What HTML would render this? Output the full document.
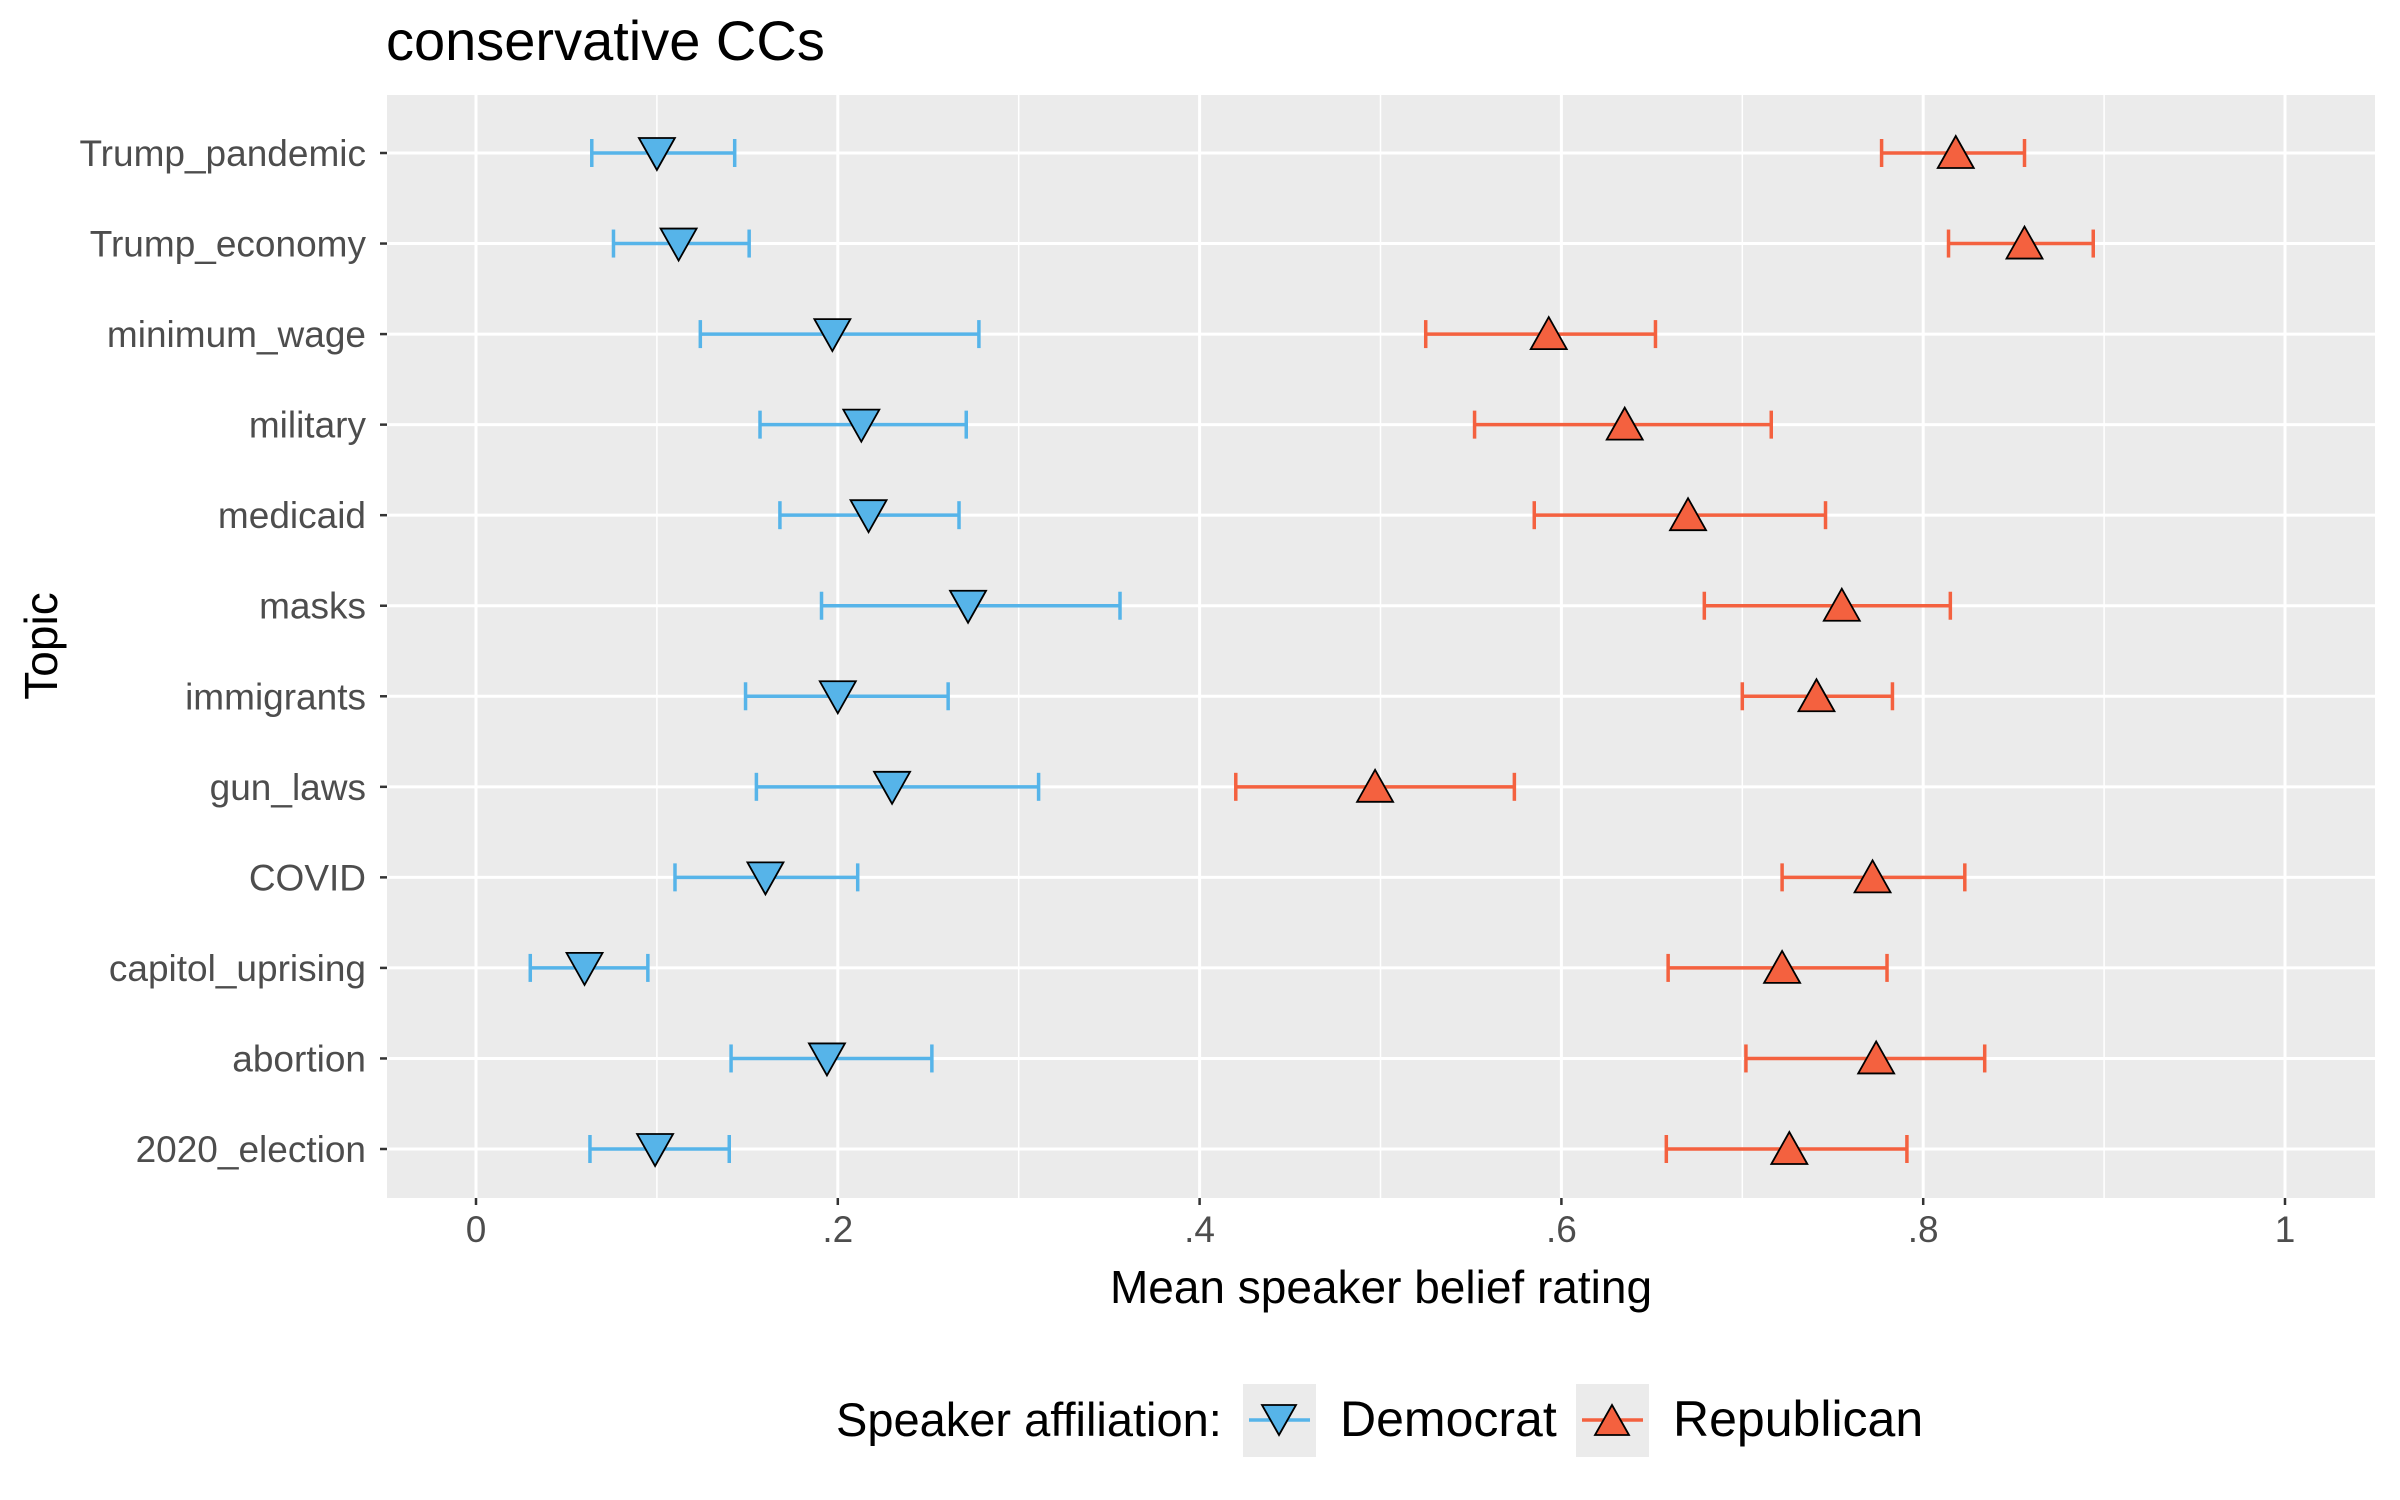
<!DOCTYPE html>
<html><head><meta charset="utf-8"><style>
html,body{margin:0;padding:0;background:#fff;}
svg{display:block;font-family:"Liberation Sans",Arial,sans-serif;}
</style></head><body>
<svg id="chart" width="2400" height="1500" viewBox="0 0 2400 1500" xmlns="http://www.w3.org/2000/svg">
<text x="386" y="60" font-size="56" fill="#000">conservative CCs</text>
<rect x="387" y="95" width="1988" height="1103" fill="#EBEBEB"/>
<g id="grid"></g>
<g id="marks"></g>
<g id="axes"></g>
<text x="1381" y="1303" font-size="46" text-anchor="middle" fill="#000">Mean speaker belief rating</text>
<text transform="translate(57,646) rotate(-90)" font-size="46" text-anchor="middle" fill="#000">Topic</text>
<g>
<text x="836" y="1436" font-size="47" fill="#000">Speaker affiliation:</text>
<g>
<rect x="1243" y="1384" width="73" height="73" fill="#EBEBEB"/>
<line x1="1249" y1="1420" x2="1310" y2="1420" stroke="#56B4E9" stroke-width="3.5"/>
<polygon points="1262,1405 1296,1405 1279,1435" fill="#56B4E9" stroke="#000" stroke-width="1.8"/>
<text x="1340" y="1436" font-size="50" fill="#000">Democrat</text>
</g>
<g>
<rect x="1576" y="1384" width="73" height="73" fill="#EBEBEB"/>
<line x1="1582" y1="1420" x2="1643" y2="1420" stroke="#F4613F" stroke-width="3.5"/>
<polygon points="1595,1435 1629,1435 1612,1405" fill="#F4613F" stroke="#000" stroke-width="1.8"/>
<text x="1673" y="1436" font-size="50" fill="#000">Republican</text>
</g>
</g>
</svg>
<script>
const topics = ["Trump_pandemic","Trump_economy","minimum_wage","military","medicaid","masks","immigrants","gun_laws","COVID","capitol_uprising","abortion","2020_election"];
const demMean = [0.100,0.112,0.197,0.213,0.217,0.272,0.200,0.230,0.160,0.060,0.194,0.099];
const demLo   = [0.064,0.076,0.124,0.157,0.168,0.191,0.149,0.155,0.110,0.030,0.141,0.063];
const demHi   = [0.143,0.151,0.278,0.271,0.267,0.356,0.261,0.311,0.211,0.095,0.252,0.140];
const repMean = [0.818,0.856,0.593,0.635,0.670,0.755,0.741,0.497,0.772,0.722,0.774,0.726];
const repLo   = [0.777,0.814,0.525,0.552,0.585,0.679,0.700,0.420,0.722,0.659,0.702,0.658];
const repHi   = [0.856,0.894,0.652,0.716,0.746,0.815,0.783,0.574,0.823,0.780,0.834,0.791];
const xTicks = [0,0.2,0.4,0.6,0.8,1];
const xTickLabels = ["0",".2",".4",".6",".8","1"];

const NS="http://www.w3.org/2000/svg";
const X0=476, X1=2285, PT=95, PB=1198, PL=387, PR=2375;
const xs=v=>X0+(X1-X0)*v;
const ys=i=>153+i*((1149-153)/11);
function mk(tag,attrs,parent){const e=document.createElementNS(NS,tag);for(const k in attrs)e.setAttribute(k,attrs[k]);parent.appendChild(e);return e;}
const grid=document.getElementById('grid'), marks=document.getElementById('marks'), axes=document.getElementById('axes');
for(let v=0.1;v<1;v+=0.2){
  const l=mk('line',{x1:xs(v),x2:xs(v),y1:PT,y2:PB,stroke:'#fff','stroke-width':1.5},grid);
  
  
}
xTicks.forEach((v,i)=>{
  const l=mk('line',{x1:xs(v),x2:xs(v),y1:PT,y2:PB,stroke:'#fff','stroke-width':3},grid);
  
  
  mk('line',{x1:xs(v),x2:xs(v),y1:PB,y2:PB+7,stroke:'#333','stroke-width':2.5},axes);
  const t=mk('text',{x:xs(v),y:PB+44,'font-size':37,'text-anchor':'middle',fill:'#4D4D4D'},axes);
  t.textContent=xTickLabels[i];
  
  
});
topics.forEach((name,i)=>{
  const y=ys(i);
  const g=mk('line',{x1:PL,x2:PR,y1:y,y2:y,stroke:'#fff','stroke-width':3},grid);
  
  
  mk('line',{x1:PL-7,x2:PL,y1:y,y2:y,stroke:'#333','stroke-width':2.5},axes);
  const t=mk('text',{x:PL-21,y:y+13,'font-size':37,'text-anchor':'end',fill:'#4D4D4D'},axes);
  t.textContent=name;
  
  
  const dg=mk('g',{},marks);
  
  
  mk('line',{x1:xs(demLo[i]),x2:xs(demHi[i]),y1:y,y2:y,stroke:'#56B4E9','stroke-width':3.5},dg);
  mk('line',{x1:xs(demLo[i]),x2:xs(demLo[i]),y1:y-14,y2:y+14,stroke:'#56B4E9','stroke-width':3.5},dg);
  mk('line',{x1:xs(demHi[i]),x2:xs(demHi[i]),y1:y-14,y2:y+14,stroke:'#56B4E9','stroke-width':3.5},dg);
  const dx=xs(demMean[i]);
  mk('polygon',{points:`${dx-18},${y-15} ${dx+18},${y-15} ${dx},${y+17}`,fill:'#56B4E9',stroke:'#000','stroke-width':1.8},dg);
  const rg=mk('g',{},marks);
  
  
  mk('line',{x1:xs(repLo[i]),x2:xs(repHi[i]),y1:y,y2:y,stroke:'#F4613F','stroke-width':3.5},rg);
  mk('line',{x1:xs(repLo[i]),x2:xs(repLo[i]),y1:y-14,y2:y+14,stroke:'#F4613F','stroke-width':3.5},rg);
  mk('line',{x1:xs(repHi[i]),x2:xs(repHi[i]),y1:y-14,y2:y+14,stroke:'#F4613F','stroke-width':3.5},rg);
  const rx=xs(repMean[i]);
  mk('polygon',{points:`${rx-18},${y+15} ${rx+18},${y+15} ${rx},${y-17}`,fill:'#F4613F',stroke:'#000','stroke-width':1.8},rg);
});
</script>
</body></html>
